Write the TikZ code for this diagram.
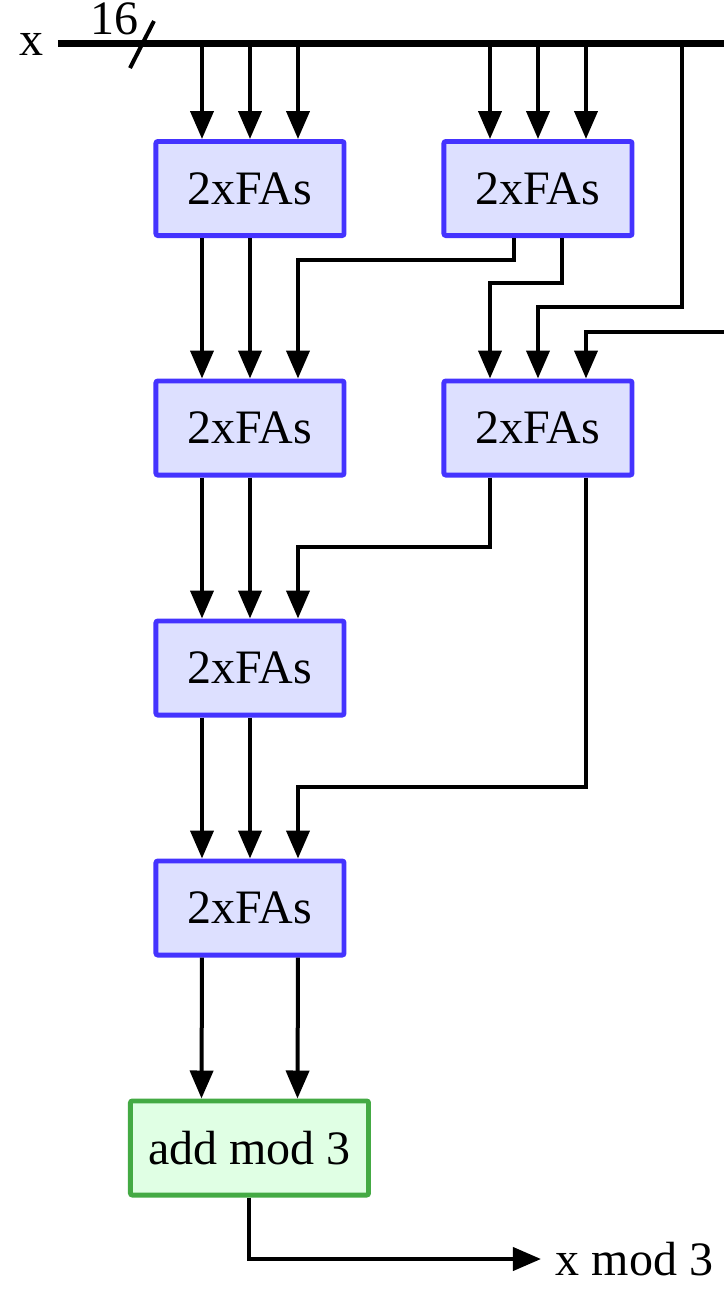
\documentclass[tikz,border=0pt]{standalone}
\usepackage{fontspec}
\setmainfont{Liberation Serif}
\usetikzlibrary{arrows.meta}
\definecolor{fabord}{RGB}{68,51,255}
\definecolor{fafill}{RGB}{221,224,255}
\definecolor{addbord}{RGB}{68,170,68}
\definecolor{addfill}{RGB}{224,255,228}
\begin{document}
\fontsize{12}{14.4}\selectfont
\begin{tikzpicture}[x=0.25pt,y=-0.25pt,
    fa/.style={draw=fabord,fill=fafill,line width=1.2pt,rounded corners=0.5pt,
        minimum width=47.05pt,minimum height=23.55pt,inner sep=0pt},
    addm/.style={fa,draw=addbord,fill=addfill,minimum width=59.55pt},
    sig/.style={line width=1pt,-{Triangle[length=7pt,width=5.75pt]}}]
    \useasboundingbox (0,0) rectangle (724,1311);
    % adder blocks
    \node[fa] (b1) at (250,188.5) {2xFAs};
    \node[fa] (b2) at (538,188.5) {2xFAs};
    \node[fa] (b3) at (250,428) {2xFAs};
    \node[fa] (b4) at (538,428) {2xFAs};
    \node[fa] (b5) at (250,668) {2xFAs};
    \node[fa] (b6) at (250,908) {2xFAs};
    \node[addm] (add) at (249.5,1148) {add mod 3};
    % input bus
    \node[anchor=east,inner sep=3.5pt] (xin) at (58,44) {x};
    \node (width) at (115,19) {16};
    \coordinate (busend) at (724,43);
    \coordinate (tap) at (682,43);
    \coordinate (rin) at (724,332);
    \draw[line width=1.75pt] (xin.east |- busend) -- (busend);
    \draw[line width=1pt] (130,68) -- (154,21);
    \foreach \s in {-12,0,12} {
        \draw[sig] ([xshift=\s pt]b1.north |- busend) -- ([xshift=\s pt]b1.north);
        \draw[sig] ([xshift=\s pt]b2.north |- busend) -- ([xshift=\s pt]b2.north);
    }
    % straight links
    \foreach \s in {-12,0} {
        \draw[sig] ([xshift=\s pt]b1.south) -- ([xshift=\s pt]b3.north);
        \draw[sig] ([xshift=\s pt]b3.south) -- ([xshift=\s pt]b5.north);
        \draw[sig] ([xshift=\s pt]b5.south) -- ([xshift=\s pt]b6.north);
    }
    \foreach \s in {-12,12}
        \draw[sig] ([xshift=\s pt]b6.south) -- ([xshift=\s pt]add.north);
    % crossing links
    \draw[sig] ([xshift=-6pt]b2.south) -- ++(0,22) -| ([xshift=12pt]b3.north);
    \draw[sig] ([xshift=6pt]b2.south) -- ++(0,45) -| ([xshift=-12pt]b4.north);
    \draw[sig] (tap) -- ++(0,264) -| (b4.north);
    \draw[sig] (rin) -| ([xshift=12pt]b4.north);
    \draw[sig] ([xshift=-12pt]b4.south) -- ++(0,69.5) -| ([xshift=12pt]b5.north);
    \draw[sig] ([xshift=12pt]b4.south) -- ++(0,309.5) -| ([xshift=12pt]b6.north);
    % output
    \node[anchor=west,inner sep=3.5pt] (xout) at (541,1259) {x mod 3};
    \draw[sig] (add.south) |- (xout.west);
\end{tikzpicture}
\end{document}
